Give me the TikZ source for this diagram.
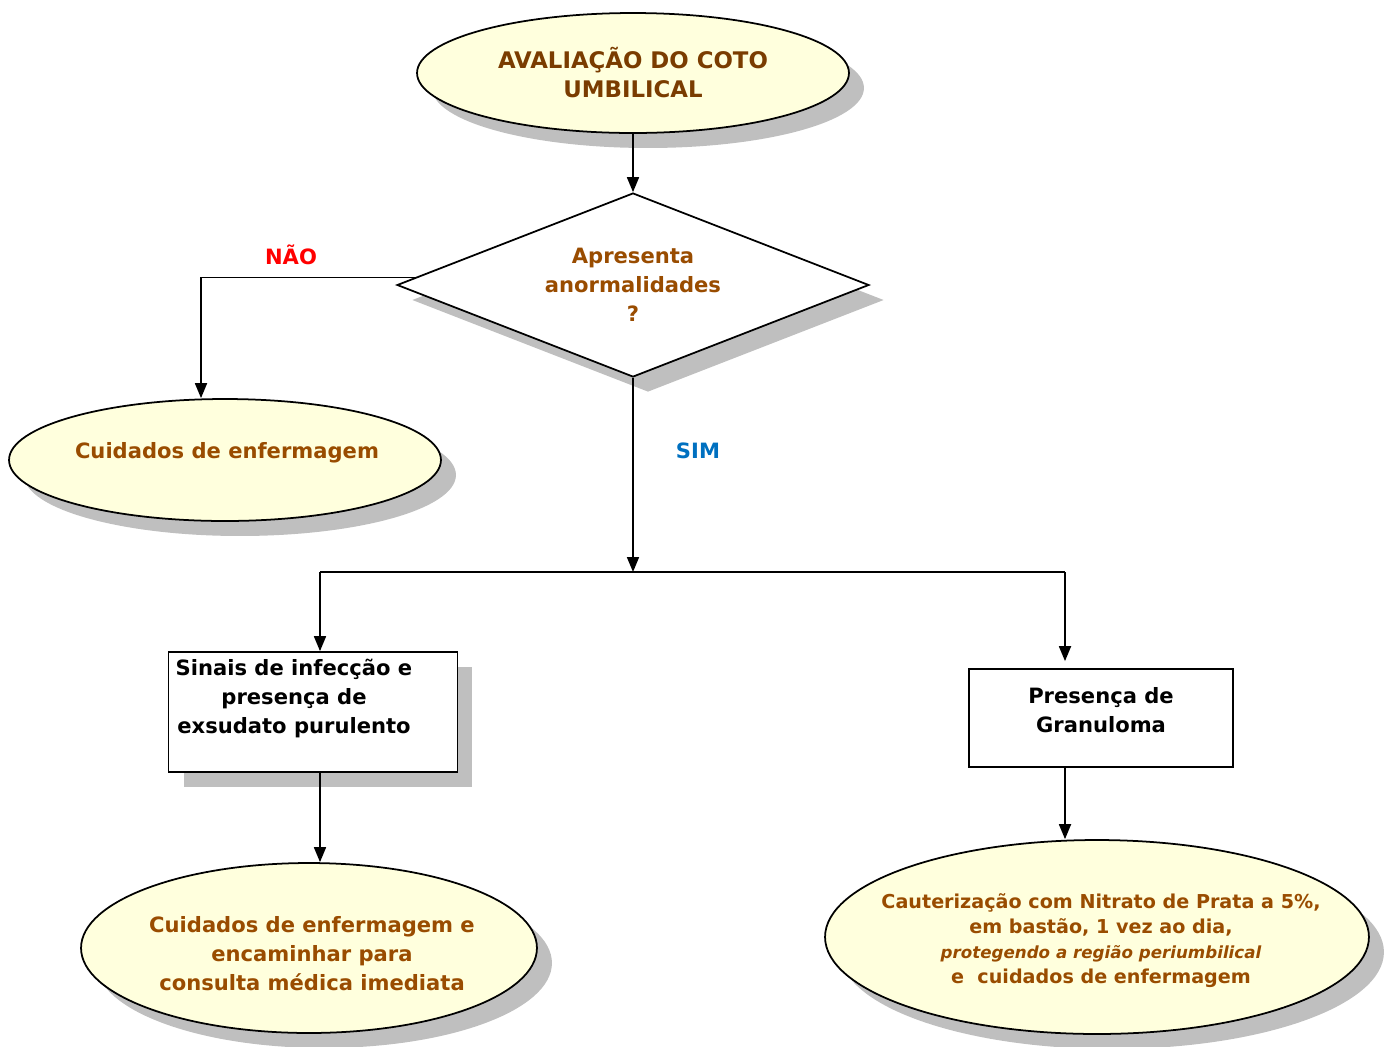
\documentclass[tikz,border=0pt]{standalone}
\usepackage{fontspec}
\setmainfont{DejaVu Sans}
\usetikzlibrary{shapes.geometric,shadows,arrows.meta}

\definecolor{marrom}{RGB}{153,76,0}
\definecolor{marromescuro}{RGB}{122,60,0}
\definecolor{creme}{RGB}{255,255,221}
\definecolor{vermelho}{RGB}{255,0,0}
\definecolor{azul}{RGB}{0,112,192}

\begin{document}
\begin{tikzpicture}[x=0.02cm,y=-0.02cm,
  font=\bfseries\fontsize{12}{16.5}\selectfont,
  conn/.style={line width=1pt,-{Triangle[length=0.3cm,width=0.24cm]}},
  sombra/.style={drop shadow={shadow xshift=0.3cm,shadow yshift=-0.3cm,fill=black!25,opacity=1}},
  elipse/.style={ellipse,draw=black,line width=1pt,fill=creme,sombra,text=marrom,align=center,inner sep=0pt},
  losango/.style={diamond,aspect=2.5,draw=black,line width=1pt,fill=white,sombra,text=marrom,align=center,inner sep=0pt},
  caixa/.style={rectangle,draw=black,line width=1pt,fill=white,align=center,inner sep=0pt},
  texto/.style={text=marrom,align=center}]
\useasboundingbox (0,0) rectangle (1394,1046);

\node[elipse,minimum width=8.64cm,minimum height=2.4cm,text=marromescuro,font=\bfseries\fontsize{13}{16.5}\selectfont]
  (avaliacao) at (633,73) {AVALIAÇÃO DO COTO\\UMBILICAL};
\node[losango,minimum width=9.44cm,minimum height=3.68cm] (decisao) at (633,285)
  {Apresenta\\anormalidades\\?};
\node[elipse,minimum width=8.64cm,minimum height=2.44cm,
  label={[texto,xshift=0.04cm,yshift=0.14cm]center:Cuidados de enfermagem}]
  (cuidados) at (225,460) {};
\node[caixa,sombra,minimum width=5.78cm,minimum height=2.4cm,
  label={[align=center,xshift=-0.38cm,yshift=0.28cm]center:Sinais de infecção e\\presença de\\exsudato purulento}]
  (sinais) at (313,712) {};
\node[caixa,minimum width=5.28cm,minimum height=1.96cm,
  label={[align=center,yshift=0.16cm]center:Presença de\\Granuloma}]
  (granuloma) at (1101,718) {};
\node[elipse,minimum width=9.12cm,minimum height=3.4cm,
  label={[texto,xshift=0.06cm,yshift=-0.12cm]center:Cuidados de enfermagem e\\encaminhar para\\consulta médica imediata}]
  (encaminhar) at (309,948) {};
\node[elipse,minimum width=10.88cm,minimum height=3.88cm,
  label={[texto,xshift=0.08cm,yshift=-0.08cm,font=\bfseries\fontsize{10.9}{14.2}\selectfont]center:Cauterização com Nitrato de Prata a 5\%,\\em bastão, 1 vez ao dia,\\
   {\fontsize{9.5}{12}\selectfont\itshape protegendo a região periumbilical}\\e~ cuidados de enfermagem}]
  (cauterizacao) at (1097,937) {};

\coordinate (juncao) at (633,572);
\coordinate (ramoE) at (320,572);
\coordinate (ramoD) at (1065,572);

\draw[conn] (avaliacao.south) -- (decisao.north);
\draw[conn] (decisao.178.5) -| ([xshift=-0.48cm]cuidados.north);
\node[text=vermelho] (nao) at (291,255) {NÃO};
\draw[conn] (decisao.south) -- (juncao);
\node[text=azul] (sim) at (698,451) {SIM};
\draw[line width=1pt] (ramoE) -- (ramoD);
\draw[conn] (ramoE) -- (ramoE |- sinais.north);
\draw[conn,shorten >=0.14cm] (ramoD) -- (ramoD |- granuloma.north);
\draw[conn] (ramoE |- sinais.south) -- (ramoE |- encaminhar.north);
\draw[conn] (ramoD |- granuloma.south) -- (ramoD |- cauterizacao.north);
\end{tikzpicture}
\end{document}
